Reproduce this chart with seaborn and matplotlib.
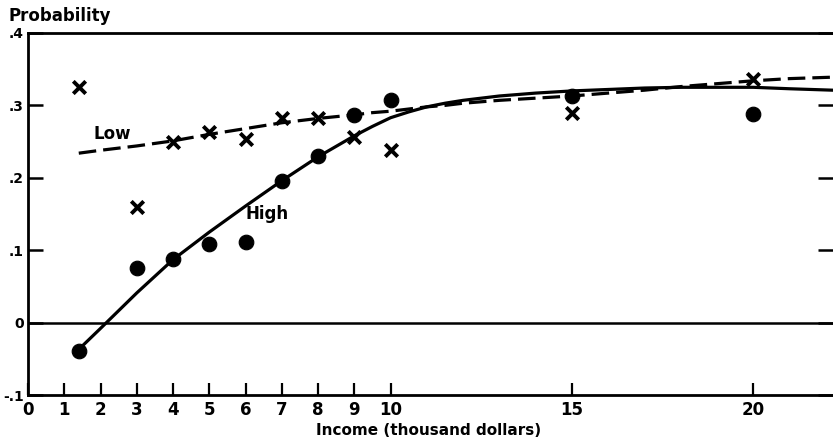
import matplotlib
matplotlib.use("Agg")
import matplotlib.pyplot as plt
import seaborn as sns

# observed points
income_pts = [1.4, 3, 4, 5, 6, 7, 8, 9, 10, 15, 20]
low_pts = [0.325, 0.159, 0.250, 0.263, 0.253, 0.282, 0.282, 0.256, 0.238, 0.290, 0.336]
high_pts = [-0.039, 0.076, 0.088, 0.108, 0.112, 0.196, 0.230, 0.287, 0.308, 0.313, 0.288]

# fitted curves
curve_x = [1.4, 2, 3, 4, 5, 6, 7, 8, 9, 9.5, 10, 10.5, 11, 11.5, 12, 12.5, 13, 14,
           15, 16, 17, 18, 19, 20, 21, 22.2]
low_curve = [0.234, 0.238, 0.244, 0.251, 0.260, 0.268, 0.276, 0.282, 0.287, 0.290,
             0.292, 0.295, 0.298, 0.300, 0.303, 0.305, 0.307, 0.310, 0.313, 0.317,
             0.321, 0.326, 0.330, 0.334, 0.337, 0.339]
high_curve = [-0.037, -0.008, 0.041, 0.087, 0.125, 0.161, 0.196, 0.229, 0.258, 0.271,
              0.283, 0.291, 0.298, 0.303, 0.307, 0.310, 0.313, 0.317, 0.320, 0.322,
              0.324, 0.325, 0.325, 0.325, 0.323, 0.321]

x_ticks = [0, 1, 2, 3, 4, 5, 6, 7, 8, 9, 10, 15, 20]
y_ticks = [-0.1, 0, 0.1, 0.2, 0.3, 0.4]
y_labels = ["-.1", "0", ".1", ".2", ".3", ".4"]

sns.set_style("white")
plt.rcParams["font.family"] = ["DejaVu Sans"]
plt.rcParams["font.weight"] = "bold"
for key in ["text.color", "axes.labelcolor", "xtick.color", "ytick.color"]:
    plt.rcParams[key] = "black"

fig = plt.figure(figsize=(8.33, 4.40), dpi=100)
ax = fig.add_axes([28 / 833, 1 - 395 / 440, 1 - 28 / 833, (395 - 33) / 440])

ax.axhline(0, color="black", lw=1.8, zorder=1)

sns.lineplot(x=curve_x, y=low_curve, ax=ax, color="black", lw=2.3,
             linestyle=(0, (5.5, 2.2)), zorder=2)
sns.lineplot(x=curve_x, y=high_curve, ax=ax, color="black", lw=2.3, zorder=2)

sns.scatterplot(x=income_pts, y=high_pts, ax=ax, color="black", s=110,
                marker="o", edgecolor="black", zorder=3)
sns.scatterplot(x=income_pts, y=low_pts, ax=ax, color="black", s=80,
                marker="x", linewidth=2.8, zorder=3)

ax.text(1.8, 0.261, "Low", fontsize=12, fontweight="bold", ha="left", va="center")
ax.text(6.0, 0.150, "High", fontsize=12, fontweight="bold", ha="left", va="center")

ax.set_xlim(0, 22.2)
ax.set_ylim(-0.1, 0.4)
ax.set_xticks(x_ticks)
ax.set_xticklabels([str(t) for t in x_ticks], fontsize=12, fontweight="bold")
ax.set_yticks(y_ticks)
ax.set_yticklabels(y_labels, fontsize=10, fontweight="bold")

ax.tick_params(axis="x", direction="in", length=9, width=1.6, pad=4, bottom=True)
ax.tick_params(axis="y", direction="in", length=11, width=1.8, pad=3,
               left=True, right=True)

for side in ["left", "bottom", "top"]:
    ax.spines[side].set_linewidth(2.0)
    ax.spines[side].set_color("black")
ax.spines["right"].set_visible(False)

ax.set_xlabel("")
ax.set_ylabel("")

fig.text(8 / 833, 1 - 16 / 440, "Probability", fontsize=12, fontweight="bold",
         ha="left", va="center")
fig.text(429 / 833, 1 - 430 / 440, "Income (thousand dollars)", fontsize=11,
         fontweight="bold", ha="center", va="center")

fig.savefig("out.png", dpi=100, facecolor="white")
